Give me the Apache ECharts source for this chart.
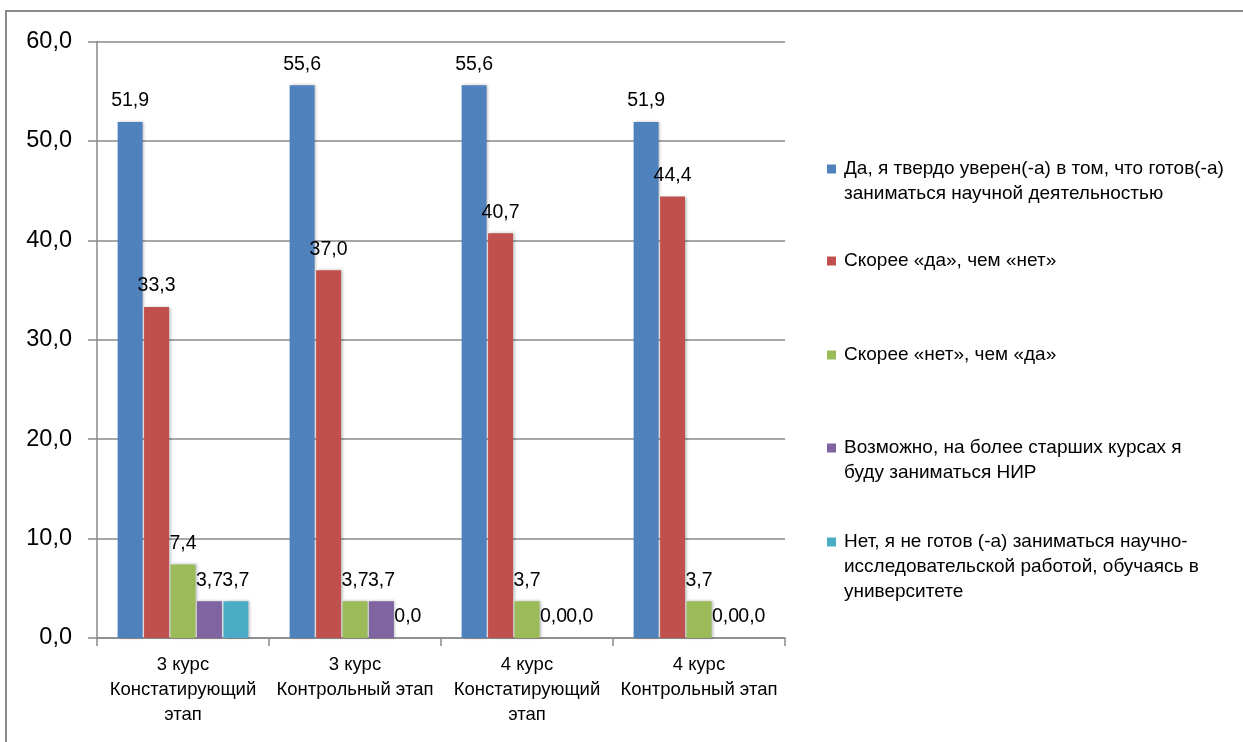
<!DOCTYPE html>
<html>
<head>
<meta charset="utf-8">
<script src="https://cdn.jsdelivr.net/npm/echarts@6/dist/echarts.min.js"></script>
<style>
  html, body { margin: 0; padding: 0; background: #ffffff; }
  #chart { width: 1243px; height: 742px; }
</style>
</head>
<body>
<div id="chart"></div>
<script>
// Survey groups (course and stage)
const categories = [
  '3 курс\nКонстатирующий\nэтап',
  '3 курс\nКонтрольный этап',
  '4 курс\nКонстатирующий\nэтап',
  '4 курс\nКонтрольный этап'
];

// Answer options
const seriesNames = [
  'Да, я твердо уверен(-а) в том, что готов(-а) заниматься научной деятельностью',
  'Скорее «да», чем «нет»',
  'Скорее «нет», чем «да»',
  'Возможно, на более старших курсах я буду заниматься НИР',
  'Нет, я не готов (-а) заниматься научно-исследовательской работой, обучаясь в университете'
];

// Legend text broken into lines
const legendLines = [
  ['Да, я твердо уверен(-а) в том, что готов(-а)', 'заниматься научной деятельностью'],
  ['Скорее «да», чем «нет»'],
  ['Скорее «нет», чем «да»'],
  ['Возможно, на более старших курсах я', 'буду заниматься НИР'],
  ['Нет, я не готов (-а) заниматься научно-', 'исследовательской работой, обучаясь в', 'университете']
];

// Share of answers, %
const sureYes    = [51.9, 55.6, 55.6, 51.9];
const ratherYes  = [33.3, 37.0, 40.7, 44.4];
const ratherNo   = [7.4, 3.7, 3.7, 3.7];
const maybeLater = [3.7, 3.7, 0.0, 0.0];
const notReady   = [3.7, 0.0, 0.0, 0.0];

// Y axis ticks
const yMin = 0, yMax = 60, yStep = 10;

const seriesValues = [sureYes, ratherYes, ratherNo, maybeLater, notReady];
const colors = ['#4F81BD', '#C0504D', '#9BBB59', '#8064A2', '#4BACC6'];

const fmt = v => Number(v).toFixed(1).replace('.', ',');
const FONT = '"Liberation Sans", Arial, sans-serif';
const LH = 25;

// line centres of each legend entry's first line
const legendFirstLine = [169, 261, 355, 448, 542];

const chart = echarts.init(document.getElementById('chart'), null, { renderer: 'canvas' });

const legends = seriesNames.map((name, i) => {
  const n = legendLines[i].length;
  // blank lines in front keep the marker level with the first text line
  const text = '\n'.repeat(n - 1) + legendLines[i].join('\n');
  return {
    data: [name],
    orient: 'vertical',
    left: 827,
    top: legendFirstLine[i] - (n - 1) * LH - LH / 2,
    padding: 0,
    itemWidth: 9,
    itemHeight: 9,
    icon: 'rect',
    selectedMode: false,
    formatter: () => text,
    textStyle: { fontFamily: FONT, fontSize: 19, lineHeight: LH, color: '#000', padding: [0, 0, 0, 3] }
  };
});

chart.setOption({
  animation: false,
  backgroundColor: '#ffffff',
  color: colors,
  textStyle: { fontFamily: FONT },
  grid: { left: 97, top: 41.5, width: 688, height: 596.5, containLabel: false },
  legend: legends,
  graphic: [{
    type: 'rect',
    shape: { x: 6, y: 11, width: 1400, height: 900 },
    style: { fill: 'none', stroke: '#8a8a8a', lineWidth: 2 },
    silent: true
  }],
  xAxis: {
    type: 'category',
    data: categories,
    axisLine: { lineStyle: { color: '#8a8a8a', width: 1.5 } },
    axisTick: { show: true, length: 8, lineStyle: { color: '#8a8a8a', width: 1.5 } },
    axisLabel: {
      interval: 0, margin: 14, color: '#000',
      fontFamily: FONT, fontSize: 18.5, lineHeight: LH
    },
    splitLine: { show: false }
  },
  yAxis: {
    type: 'value',
    min: yMin, max: yMax, interval: yStep,
    axisLine: { show: true, lineStyle: { color: '#8a8a8a', width: 1.5 } },
    axisTick: { show: true, length: 9, lineStyle: { color: '#8a8a8a', width: 1.5 } },
    axisLabel: {
      margin: 25, color: '#000', fontFamily: FONT, fontSize: 23.5,
      formatter: v => fmt(v)
    },
    splitLine: { lineStyle: { color: '#8a8a8a', width: 1.5 } }
  },
  series: seriesNames.map((name, i) => ({
    name,
    type: 'bar',
    data: seriesValues[i],
    barGap: '6%',
    barCategoryGap: '24%',
    itemStyle: {
      color: colors[i],
      shadowColor: 'rgba(0,0,0,0.28)',
      shadowBlur: 3,
      shadowOffsetX: 1.5,
      shadowOffsetY: 0
    },
    label: {
      show: true,
      position: 'top',
      distance: 11,
      color: '#000',
      fontFamily: FONT,
      fontSize: 19.5,
      formatter: p => fmt(p.value)
    }
  }))
});
</script>
</body>
</html>
